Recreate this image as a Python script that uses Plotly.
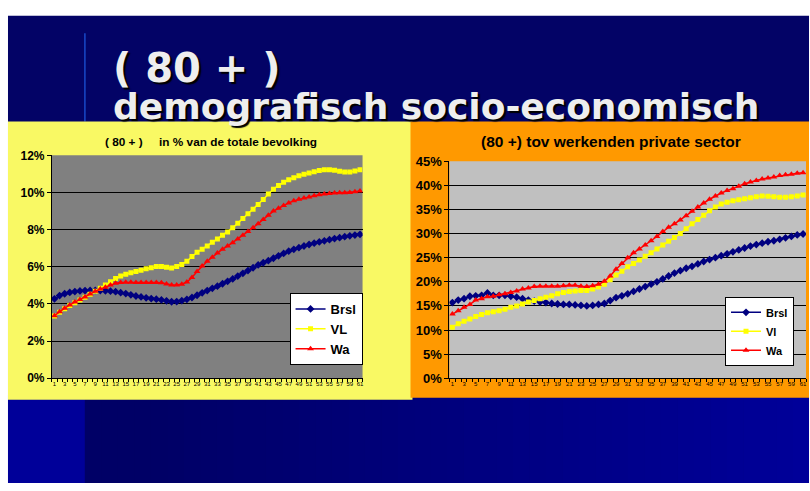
import plotly.graph_objects as go

# ---------------- data ----------------
periods = list(range(1, 62))

series_names_left = ["Brsl", "VL", "Wa"]
series_names_right = ["Brsl", "Vl", "Wa"]

# (80+) in % of total population
brsl_pop = [4.28, 4.45, 4.55, 4.62, 4.67, 4.70, 4.72, 4.73, 4.73, 4.72,
            4.71, 4.69, 4.66, 4.61, 4.56, 4.49, 4.43, 4.38, 4.33, 4.29,
            4.26, 4.22, 4.17, 4.12, 4.13, 4.18, 4.25, 4.35, 4.47, 4.60,
            4.72, 4.84, 4.96, 5.09, 5.22, 5.35, 5.50, 5.65, 5.80, 5.95,
            6.10, 6.22, 6.33, 6.46, 6.59, 6.72, 6.84, 6.94, 7.03, 7.12,
            7.20, 7.27, 7.34, 7.40, 7.46, 7.52, 7.57, 7.62, 7.67, 7.71,
            7.75]
vl_pop = [3.35, 3.55, 3.74, 3.92, 4.07, 4.21, 4.36, 4.52, 4.68, 4.85,
          5.02, 5.20, 5.37, 5.50, 5.60, 5.68, 5.75, 5.82, 5.89, 5.95,
          6.02, 6.02, 5.97, 5.94, 6.02, 6.12, 6.30, 6.55, 6.78, 6.95,
          7.12, 7.32, 7.50, 7.70, 7.88, 8.10, 8.35, 8.60, 8.85, 9.10,
          9.35, 9.62, 9.92, 10.18, 10.38, 10.55, 10.68, 10.80, 10.90, 10.98,
          11.05, 11.12, 11.18, 11.22, 11.22, 11.20, 11.14, 11.10, 11.10, 11.15,
          11.22]
wa_pop = [3.37, 3.58, 3.77, 3.95, 4.10, 4.24, 4.38, 4.54, 4.68, 4.80,
          4.90, 5.02, 5.12, 5.16, 5.17, 5.17, 5.16, 5.16, 5.15, 5.16,
          5.16, 5.14, 5.08, 5.02, 5.02, 5.06, 5.18, 5.42, 5.75, 6.05,
          6.30, 6.52, 6.74, 6.95, 7.12, 7.30, 7.50, 7.70, 7.90, 8.10,
          8.32, 8.55, 8.78, 9.00, 9.15, 9.30, 9.44, 9.55, 9.63, 9.70,
          9.76, 9.83, 9.88, 9.92, 9.95, 9.97, 9.98, 9.99, 10.00, 10.04,
          10.08]

# (80+) relative to private-sector workers (%)
brsl_work = [15.7, 16.2, 16.5, 17.0, 17.1, 17.2, 17.7, 17.2, 17.2, 17.2,
             17.0, 16.8, 16.5, 16.2, 16.0, 15.8, 15.7, 15.5, 15.4, 15.3,
             15.3, 15.2, 15.1, 15.0, 15.1, 15.3, 15.5, 16.1, 16.7, 17.1,
             17.5, 18.0, 18.5, 19.0, 19.5, 20.0, 20.6, 21.2, 21.8, 22.3,
             22.8, 23.2, 23.7, 24.2, 24.6, 25.0, 25.4, 25.8, 26.2, 26.6,
             27.0, 27.4, 27.7, 28.0, 28.3, 28.5, 28.8, 29.1, 29.4, 29.7,
             29.9]
vl_work = [10.6, 11.3, 11.8, 12.3, 12.8, 13.2, 13.6, 13.8, 14.0, 14.3,
           14.7, 15.0, 15.4, 15.8, 16.1, 16.5, 16.8, 17.1, 17.5, 17.8,
           18.0, 18.1, 18.2, 18.2, 18.5, 18.9, 19.5, 20.4, 21.4, 22.2,
           23.1, 23.8, 24.5, 25.3, 26.0, 26.8, 27.6, 28.4, 29.2, 30.0,
           31.0, 32.0, 32.9, 33.8, 34.7, 35.5, 36.1, 36.5, 36.8, 37.0,
           37.2, 37.4, 37.6, 37.8, 37.7, 37.6, 37.5, 37.5, 37.6, 37.8,
           38.0]
wa_work = [13.3, 14.0, 14.7, 15.3, 16.2, 16.5, 16.9, 17.0, 17.3, 17.5,
           17.8, 18.1, 18.5, 18.7, 19.0, 19.1, 19.1, 19.1, 19.1, 19.2,
           19.3, 19.3, 19.1, 19.0, 19.2, 19.5, 20.1, 21.2, 22.6, 23.8,
           25.0, 26.0, 26.8, 27.6, 28.5, 29.4, 30.4, 31.3, 32.0, 32.8,
           33.7, 34.6, 35.5, 36.3, 37.1, 37.8, 38.4, 38.9, 39.3, 39.8,
           40.3, 40.7, 41.0, 41.3, 41.5, 41.7, 42.0, 42.2, 42.3, 42.5,
           42.6]

slide_title = "( 80 + )"
slide_subtitle = "demografisch socio-economisch"
left_title = "( 80 + )\u00a0\u00a0\u00a0\u00a0 in % van de totale bevolking"
right_title = "(80 +) tov werkenden private sector"

# ---------------- layout helpers ----------------
W, H = 810, 491
def px(x):
    return x / W
def py(y):
    return (H - y) / H

FONT = "Liberation Sans, Arial, sans-serif"
styles = [
    dict(color="#000080", symbol="diamond"),
    dict(color="#FFFF00", symbol="square"),
    dict(color="#FF0000", symbol="triangle-up"),
]

fig = go.Figure()

left_vals = [brsl_pop, vl_pop, wa_pop]
right_vals = [brsl_work, vl_work, wa_work]

for name, vals, st in zip(series_names_left, left_vals, styles):
    fig.add_trace(go.Scatter(
        x=periods, y=vals, name=name, mode="lines+markers",
        line=dict(color=st["color"], width=1.5),
        marker=dict(symbol=st["symbol"], size=6 if st["symbol"] != "square" else 5,
                    color=st["color"], line=dict(width=0)),
        xaxis="x", yaxis="y", legend="legend"))

for name, vals, st in zip(series_names_right, right_vals, styles):
    fig.add_trace(go.Scatter(
        x=periods, y=vals, name=name, mode="lines+markers",
        line=dict(color=st["color"], width=1.5),
        marker=dict(symbol=st["symbol"], size=6 if st["symbol"] != "square" else 5,
                    color=st["color"], line=dict(width=0)),
        xaxis="x2", yaxis="y2", legend="legend2"))

# ---------------- background shapes ----------------
shapes = []
# slide navy background (white edge at top/left)
shapes.append(dict(type="rect", xref="paper", yref="paper", layer="below",
                   x0=px(8), x1=1, y0=0, y1=py(9),
                   fillcolor="#030366", line=dict(width=0)))
# bottom band: left bar and gradient
shapes.append(dict(type="rect", xref="paper", yref="paper", layer="below",
                   x0=px(8), x1=px(85), y0=0, y1=py(400),
                   fillcolor="#000099", line=dict(width=0)))
n_strips = 44
x_start, x_end = 85, 810
for k in range(n_strips):
    xa = x_start + (x_end - x_start) * k / n_strips
    xb = x_start + (x_end - x_start) * (k + 1) / n_strips + 0.5
    t = max(0.0, (xa - 150) / (x_end - 150))
    b = int(round(102 + (154 - 102) * t))
    shapes.append(dict(type="rect", xref="paper", yref="paper", layer="below",
                       x0=px(xa), x1=min(px(xb), 1), y0=0, y1=py(400),
                       fillcolor=f"rgb(0,0,{b})", line=dict(width=0)))
# thin light-blue vertical line in the title area
shapes.append(dict(type="line", xref="paper", yref="paper", layer="below",
                   x0=px(85), x1=px(85), y0=py(118), y1=py(27),
                   line=dict(color="#1848C8", width=1.5)))
# panels
shapes.append(dict(type="rect", xref="paper", yref="paper", layer="below",
                   x0=px(8), x1=px(413), y0=py(405), y1=py(118),
                   fillcolor="#F9F964", line=dict(width=0)))
shapes.append(dict(type="rect", xref="paper", yref="paper", layer="below",
                   x0=px(411), x1=1, y0=py(403), y1=py(118),
                   fillcolor="#FF9900", line=dict(width=0)))
# plot area backgrounds
shapes.append(dict(type="rect", xref="x domain", yref="y domain", layer="below",
                   x0=0, x1=1, y0=0, y1=1, fillcolor="#808080", line=dict(width=0)))
shapes.append(dict(type="rect", xref="x2 domain", yref="y2 domain", layer="below",
                   x0=0, x1=1, y0=0, y1=1, fillcolor="#C0C0C0", line=dict(width=0)))

# ---------------- annotations ----------------
annotations = [
    dict(text=slide_title, xref="paper", yref="paper", x=px(111), y=py(63),
         xanchor="left", yanchor="middle", showarrow=False,
         font=dict(family="DejaVu Sans, sans-serif", size=40, color="#EEEEEE",
                   weight="bold", shadow="2px 2px 1px #000000")),
    dict(text=slide_subtitle, xref="paper", yref="paper", x=px(111), y=py(103),
         xanchor="left", yanchor="middle", showarrow=False,
         font=dict(family="DejaVu Sans, sans-serif", size=36, color="#EEEEEE",
                   weight="bold", shadow="2px 2px 1px #000000")),
    dict(text=left_title, xref="paper", yref="paper", x=px(211), y=py(139),
         xanchor="center", yanchor="middle", showarrow=False,
         font=dict(family=FONT, size=11.8, color="#000000", weight="bold")),
    dict(text=right_title, xref="paper", yref="paper", x=px(612), y=py(139),
         xanchor="center", yanchor="middle", showarrow=False,
         font=dict(family=FONT, size=15.5, color="#000000", weight="bold")),
]

xaxis_common = dict(
    range=[0.5, 61.5], tickmode="linear", tick0=1, dtick=2,
    ticks="", showgrid=False, zeroline=False,
    showline=True, linecolor="#000000", linewidth=1,
    tickfont=dict(family=FONT, size=6, color="#000000"),
    minor=dict(tickmode="linear", tick0=0.5, dtick=1, ticks="outside",
               ticklen=3, tickcolor="#000000", showgrid=False),
    fixedrange=True,
)

fig.update_layout(
    width=W, height=H,
    margin=dict(l=0, r=0, t=0, b=0),
    paper_bgcolor="#FFFFFF",
    plot_bgcolor="rgba(0,0,0,0)",
    shapes=shapes,
    annotations=annotations,
    xaxis=dict(domain=[px(52), px(363)], anchor="y", **xaxis_common),
    yaxis=dict(domain=[py(383), py(153)], anchor="x", range=[0, 12],
               tickmode="linear", tick0=0, dtick=2, ticksuffix="%",
               showgrid=True, gridcolor="#000000", gridwidth=1,
               zeroline=False, showline=True, linecolor="#000000", linewidth=1,
               ticks="outside", ticklen=4, tickcolor="#000000", fixedrange=True,
               tickfont=dict(family=FONT, size=12, color="#000000", weight="bold")),
    xaxis2=dict(domain=[px(450), px(807)], anchor="y2", **xaxis_common),
    yaxis2=dict(domain=[py(383), py(159)], anchor="x2", range=[0, 45],
                tickmode="linear", tick0=0, dtick=5, ticksuffix="%",
                showgrid=True, gridcolor="#000000", gridwidth=1,
                zeroline=False, showline=True, linecolor="#000000", linewidth=1,
                ticks="outside", ticklen=4, tickcolor="#000000", fixedrange=True,
                tickfont=dict(family=FONT, size=13, color="#000000", weight="bold")),
    legend=dict(x=px(363), y=py(295), xanchor="right", yanchor="top",
                bgcolor="#FFFFFF", bordercolor="#000000", borderwidth=1,
                font=dict(family=FONT, size=13, color="#000000", weight="bold"),
                itemwidth=30, tracegroupgap=0),
    legend2=dict(x=px(795), y=py(299), xanchor="right", yanchor="top",
                 bgcolor="#FFFFFF", bordercolor="#000000", borderwidth=1,
                 font=dict(family=FONT, size=11, color="#000000", weight="bold"),
                 itemwidth=30, tracegroupgap=0),
    showlegend=True,
)

# pin the figure to the window's top-left corner so it is shown 1:1
fig.write_html(
    "out.html",
    config={"displayModeBar": False, "staticPlot": True},
    post_script=("var gd=document.getElementsByClassName('plotly-graph-div')[0];"
                 "gd.style.position='fixed';gd.style.left='0px';gd.style.top='0px';"
                 "document.body.style.margin='0';"),
)
